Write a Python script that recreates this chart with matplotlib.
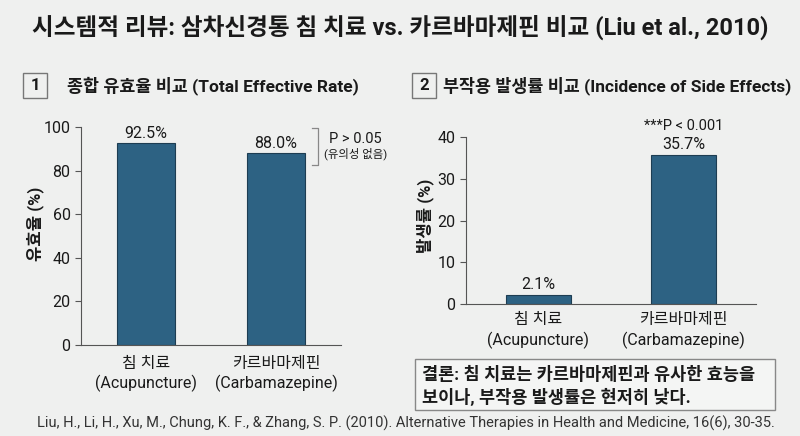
import matplotlib
matplotlib.use("Agg")
import matplotlib.pyplot as plt
from matplotlib.patches import Rectangle

plt.rcParams['font.family'] = ['Roboto', 'Noto Sans CJK KR', 'DejaVu Sans']

title = "시스템적 리뷰: 삼차신경통 침 치료 vs. 카르바마제핀 비교 (Liu et al., 2010)"
categories = ["침 치료\n(Acupuncture)", "카르바마제핀\n(Carbamazepine)"]
effective_rate = [92.5, 88.0]
side_effects = [2.1, 35.7]
eff_labels = ["92.5%", "88.0%"]
side_labels = ["2.1%", "35.7%"]
left_yticks = [0, 20, 40, 60, 80, 100]
right_yticks = [0, 10, 20, 30, 40]
panel1_title = "종합 유효율 비교 (Total Effective Rate)"
panel2_title = "부작용 발생률 비교 (Incidence of Side Effects)"
conclusion = "결론: 침 치료는 카르바마제핀과 유사한 효능을\n보이나, 부작용 발생률은 현저히 낮다."
citation = ("Liu, H., Li, H., Xu, M., Chung, K. F., & Zhang, S. P. (2010). "
            "Alternative Therapies in Health and Medicine, 16(6), 30-35.")

BG = "#eff0ef"
BAR = "#2d6283"
EDGE = "#1d3d52"
TXT = "#1a1a1a"

fig = plt.figure(figsize=(8, 4.36), dpi=100, facecolor=BG)

fig.text(0.5, 1 - 27/436, title, ha='center', va='center', fontsize=17,
         fontweight='bold', color=TXT)

def panel_header(x_box, x_text, num, text):
    y = 1 - 86/436
    fig.patches.append(Rectangle((x_box/800, 1 - 98/436), 24/800, 25/436,
                                 transform=fig.transFigure, facecolor='none',
                                 edgecolor='#777777', lw=1.0))
    fig.text((x_box + 12)/800, y, num, ha='center', va='center', fontsize=12,
             fontweight='bold', color=TXT)
    fig.text(x_text/800, y, text, ha='left', va='center', fontsize=12.5,
             fontweight='bold', color=TXT)

panel_header(23, 67, "1", panel1_title)
panel_header(412, 443, "2", panel2_title)

def style_ax(ax):
    ax.set_facecolor(BG)
    for s in ['top', 'right']:
        ax.spines[s].set_visible(False)
    ax.spines['left'].set_color('#555555')
    ax.spines['bottom'].set_color('#555555')
    ax.tick_params(axis='y', colors='#555555', labelcolor=TXT, labelsize=11.5,
                   length=4, width=0.8)
    ax.tick_params(axis='x', length=0, labelsize=11.5, labelcolor=TXT)

# Left panel
ax1 = fig.add_axes([81/800, 1 - 345/436, 260/800, 218/436])
style_ax(ax1)
ax1.tick_params(axis='x', pad=8)
x = [0, 1]
ax1.bar(x, effective_rate, width=0.44, color=BAR, edgecolor=EDGE, lw=0.8)
ax1.set_xlim(-0.5, 1.5)
ax1.set_ylim(0, 100)
ax1.set_yticks(left_yticks)
ax1.set_xticks(x)
ax1.set_xticklabels(categories, linespacing=1.3)
ax1.set_ylabel("유효율 (%)", fontsize=12, fontweight='bold', color=TXT,
               va='center')
ax1.yaxis.set_label_coords(-0.177, 0.555)
for xi, v, lab in zip(x, effective_rate, eff_labels):
    ax1.text(xi, v + 1.2, lab, ha='center', va='bottom', fontsize=11.5, color=TXT)
# bracket
bx = 1.32
ax1.plot([bx - 0.04, bx, bx, bx - 0.04], [99.5, 99.5, 82.5, 82.5],
         color='#888888', lw=0.9, clip_on=False)
ax1.text(bx + 0.09, 94.6, "P > 0.05", ha='left', va='center', fontsize=10.5, color=TXT)
ax1.text(bx + 0.05, 87.6, "(유의성 없음)", ha='left', va='center', fontsize=8.2, color=TXT)

# Right panel
ax2 = fig.add_axes([466/800, 1 - 304/436, 290/800, 167/436])
style_ax(ax2)
ax2.tick_params(axis='x', pad=6)
ax2.bar(x, side_effects, width=0.45, color=BAR, edgecolor=EDGE, lw=0.8)
ax2.set_xlim(-0.5, 1.5)
ax2.set_ylim(0, 40)
ax2.set_yticks(right_yticks)
ax2.set_xticks(x)
ax2.set_xticklabels(categories, linespacing=1.3)
ax2.set_ylabel("발생률 (%)", fontsize=12, fontweight='bold', color=TXT,
               va='center')
ax2.yaxis.set_label_coords(-0.141, 0.527)
for xi, v, lab in zip(x, side_effects, side_labels):
    ax2.text(xi, v + 0.8, lab, ha='center', va='bottom', fontsize=11.5, color=TXT)
ax2.text(1, side_effects[1] + 5.3, "***P < 0.001", ha='center', va='bottom',
         fontsize=10.5, color=TXT)

# Conclusion box
fig.patches.append(Rectangle((415/800, 1 - 410/436), 360/800, 51/436,
                             transform=fig.transFigure, facecolor='#f4f5f4',
                             edgecolor='#888888', lw=1.0))
fig.text(422/800, 1 - 386/436, conclusion, ha='left', va='center', fontsize=12.6,
         fontweight='bold', color=TXT, linespacing=1.3)

fig.text(37/800, 1 - 423/436, citation, ha='left', va='center', fontsize=10.5,
         color='#333333')

fig.savefig("out.png", dpi=100, facecolor=BG)
